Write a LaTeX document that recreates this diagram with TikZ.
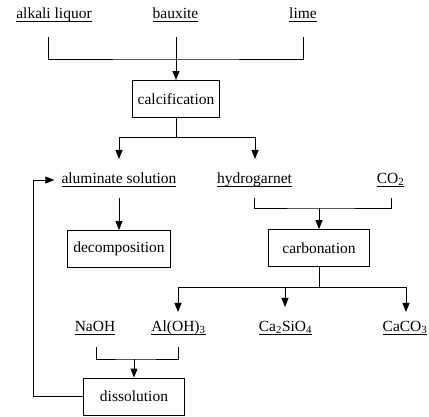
\documentclass[tikz,border=0pt]{standalone}
\usepackage{fontspec}
\setmainfont{Liberation Serif}
\usetikzlibrary{arrows.meta}
\newcommand{\ulab}[1]{\underline{\smash{#1}\rule[-1.2pt]{0pt}{11pt}}}
\tikzset{
ARC/.style ={draw=black,line join=miter,line cap=butt,miter limit=4.00,line width=0.8pt},
ARROW/.style ={ARC,-{Triangle[length=9pt,width=7pt]}},
BOX/.style={draw=black,line width=0.8pt,font=\fontsize{15.5}{18}\selectfont,minimum height=37pt,inner xsep=5.5pt,minimum width=#1},
BOX/.default = 0pt,
LABEL/.style={font=\fontsize{15.5}{18}\selectfont,inner sep=3pt,anchor=base},
}
\begin{document}
\begin{tikzpicture}[x=1pt,y=-1pt] %alumina process
	\useasboundingbox (0,0) rectangle (429,417);
	\node[LABEL] (alkali) at (54,19) {\ulab{alkali liquor}};
	\node[LABEL] (bauxite) at (175.5,19) {\ulab{bauxite}};
	\node[LABEL] (lime) at (303,19) {\ulab{lime}};
	\node[BOX] (calc) at (176,99) {calcification};
	\node[LABEL] (alum) at (119,183.3) {\ulab{aluminate solution}};
	\node[LABEL] (hydro) at (254.5,183.3) {\ulab{hydrogarnet}};
	\node[LABEL] (co2) at (390.5,183.3) {\ulab{CO\textsubscript{2}}};
	\node[BOX] (decomp) at (119,249) {decomposition};
	\node[BOX=101pt] (carb) at (319,248) {carbonation};
	\node[LABEL] (naoh) at (95,331.7) {\ulab{NaOH}};
	\node[LABEL] (aloh) at (178.5,331.7) {\ulab{Al(OH)\textsubscript{3}}};
	\node[LABEL] (casio) at (285.5,331.7) {\ulab{Ca\textsubscript{2}SiO\textsubscript{4}}};
	\node[LABEL] (caco) at (405,331.7) {\ulab{CaCO\textsubscript{3}}};
	\node[BOX=101pt] (diss) at (134,396.5) {dissolution};
	% raw materials
	\coordinate (alkali-out) at (48,37);
	\coordinate (bauxite-out) at (176,37);
	\coordinate (lime-out) at (303,37);
	\coordinate (mix) at (176,59);
	\path[ARC] (alkali-out) |- (mix) -| (lime-out);
	\path[ARROW] (bauxite-out) -- (calc.north);
	\path[ARC] (calc.south) -- ++(0,20) coordinate (split);
	\coordinate (alum-in) at (119,159);
	\coordinate (hydro-in) at (255,159);
	\path[ARROW] (split) -| (alum-in);
	\path[ARROW] (split) -| (hydro-in);
	\coordinate (alum-out) at (119,198);
	\path[ARROW] (alum-out) -- (decomp.north);
	% carbonation
	\coordinate (hydro-out) at (254,198);
	\coordinate (co2-out) at (391,198);
	\coordinate (gas) at (319,208);
	\path[ARC] (hydro-out) |- (gas) -| (co2-out);
	\path[ARROW] (gas) -- (carb.north);
	\path[ARC] (carb.south) -- ++(0,21) coordinate (sep);
	\coordinate (aloh-in) at (178,312);
	\coordinate (casio-in) at (285,307);
	\coordinate (caco-in) at (406,312);
	\foreach \t in {aloh-in,casio-in,caco-in}
		\path[ARROW] (sep) -| (\t);
	% dissolution and return
	\coordinate (naoh-out) at (96,347);
	\coordinate (aloh-out) at (178,347);
	\coordinate (feed) at (134,359);
	\path[ARC] (naoh-out) |- (feed) -| (aloh-out);
	\path[ARROW] (feed) -- (diss.north);
	\coordinate (loop) at (33,0);
	\path[ARROW] (diss.west) -| (loop |- alum.west) -- ([xshift=-4pt]alum.west);
\end{tikzpicture}
\end{document}
